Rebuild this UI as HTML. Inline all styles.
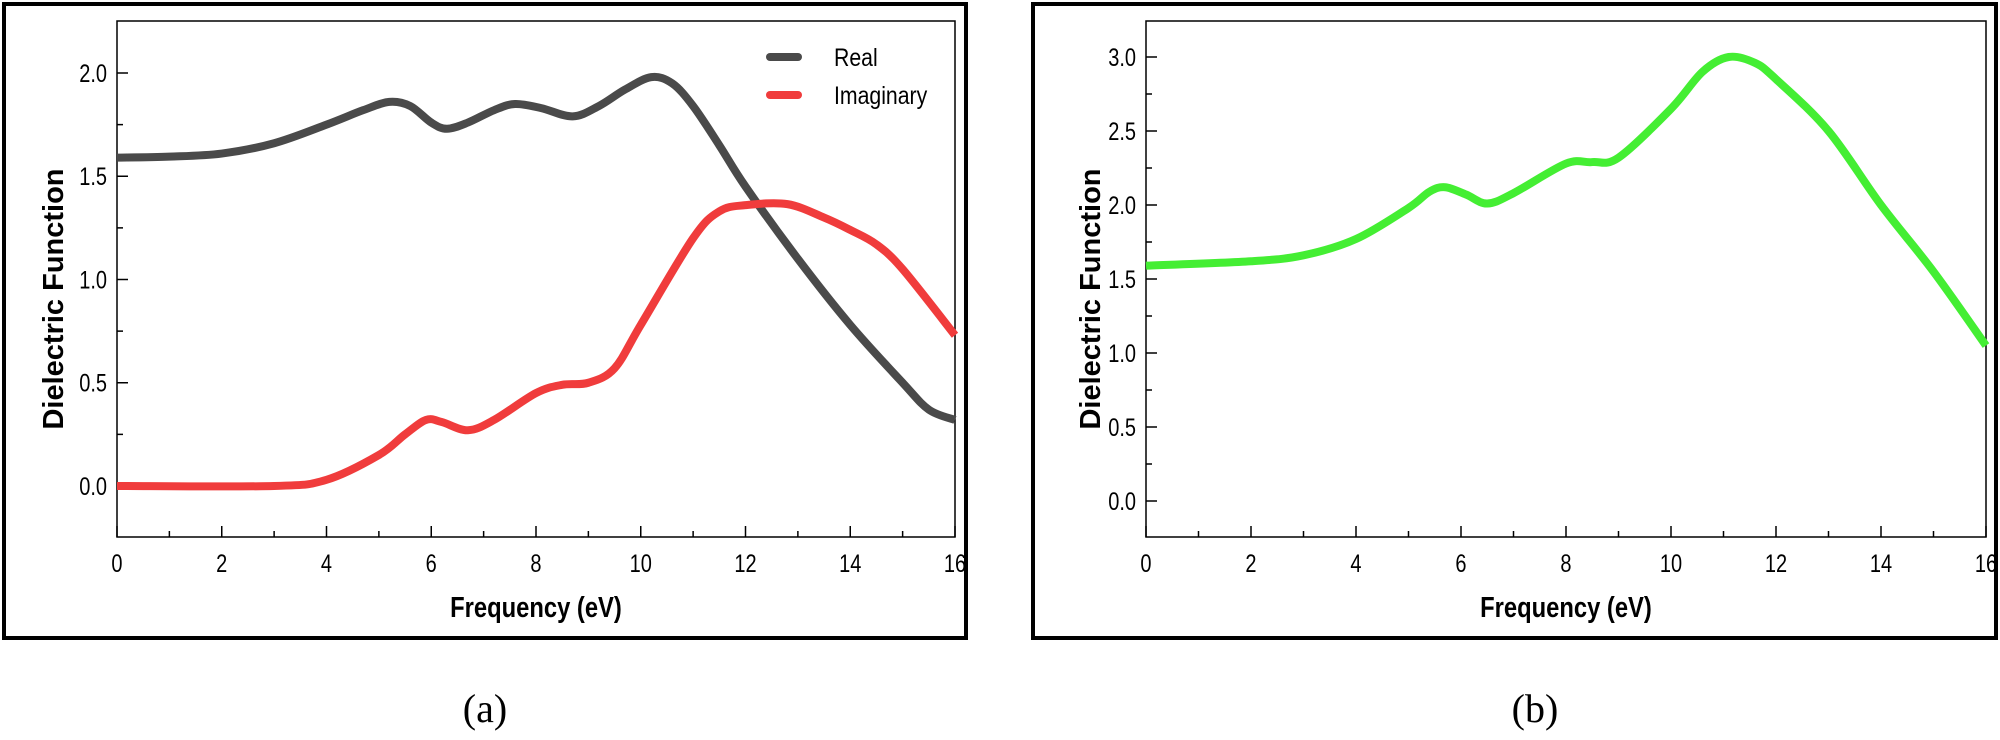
<!DOCTYPE html>
<html><head><meta charset="utf-8"><style>
body{margin:0;background:#fff}
svg text{font-family:"Liberation Sans",sans-serif}
</style></head><body>
<svg id="fig" width="2000" height="735" xmlns="http://www.w3.org/2000/svg">
<rect x="4" y="4" width="962" height="634" fill="none" stroke="#000" stroke-width="4"/>
<rect x="1033" y="4" width="963" height="634" fill="none" stroke="#000" stroke-width="4"/>
<text x="485" y="722" font-size="40" text-anchor="middle" style="font-family:'Liberation Serif',serif">(a)</text>
<text x="1535" y="722" font-size="40" text-anchor="middle" style="font-family:'Liberation Serif',serif">(b)</text>
<g id="pa"></g><g id="pb"></g>
</svg>
<script>
const xTicks=[0,2,4,6,8,10,12,14,16];
const realX=[0,1,2,3,4,4.7,5.2,5.6,6.0,6.3,6.7,7.2,7.6,8.1,8.7,9.2,9.7,10.2,10.6,11.0,11.5,12,13,14,15,15.5,16];
const realY=[1.59,1.595,1.61,1.66,1.75,1.82,1.86,1.84,1.76,1.73,1.76,1.82,1.85,1.83,1.79,1.84,1.92,1.98,1.95,1.84,1.65,1.45,1.1,0.78,0.5,0.37,0.32];
const imagX=[0,3,4,5,5.5,5.9,6.2,6.7,7.2,8,8.5,9,9.5,10,11,11.5,12,12.8,13.5,14,14.5,15,16];
const imagY=[0,0,0.03,0.15,0.25,0.32,0.31,0.27,0.32,0.45,0.49,0.5,0.57,0.78,1.2,1.33,1.36,1.365,1.3,1.24,1.17,1.05,0.73];
const aTicks=[0,0.5,1.0,1.5,2.0];
const greenX=[0,2,3,4,5,5.4,5.7,6.1,6.5,7,8,8.5,9,10,10.6,11.1,11.6,12,13,14,15,16];
const greenY=[1.59,1.62,1.66,1.77,1.98,2.09,2.12,2.07,2.01,2.08,2.28,2.29,2.32,2.65,2.9,3.0,2.96,2.85,2.5,2.0,1.55,1.05];
const bTicks=[0,0.5,1.0,1.5,2.0,2.5,3.0];
const NS="http://www.w3.org/2000/svg";
function mk(p,t,a){const e=document.createElementNS(NS,t);for(const k in a)e.setAttribute(k,a[k]);p.appendChild(e);return e;}
function path(pts){let d="M"+pts[0][0]+","+pts[0][1];for(let i=0;i<pts.length-1;i++){const p0=pts[Math.max(0,i-1)],p1=pts[i],p2=pts[i+1],p3=pts[Math.min(pts.length-1,i+2)];
d+=" C"+(p1[0]+(p2[0]-p0[0])/6)+","+(p1[1]+(p2[1]-p0[1])/6)+" "+(p2[0]-(p3[0]-p1[0])/6)+","+(p2[1]-(p3[1]-p1[1])/6)+" "+p2[0]+","+p2[1];}return d;}
function panel(g,L,R,T,B,y0,yMax,yMaxPx,yt,ytitleX,series){
 const sx=v=>L+(R-L)*v/16, sy=v=>y0-(y0-yMaxPx)*v/yMax;
 let r=mk(g,"rect",{x:L,y:T,width:R-L,height:B-T,fill:"none",stroke:"#000","stroke-width":1.5});
 
 
 for(let v=0;v<=16;v++){const l=mk(g,"line",{x1:sx(v),x2:sx(v),y1:B,y2:B-(v%2?6:11),stroke:"#000","stroke-width":1.5});
  
  }
 xTicks.forEach(v=>{const t=mk(g,"text",{x:sx(v),y:B+35,"font-size":25,"text-anchor":"middle",transform:`translate(${sx(v)},0) scale(0.8,1) translate(${-sx(v)},0)`});t.textContent=v;
  
  });
 for(let v=-0.25;v<=yt[yt.length-1]+0.26;v+=0.25){const y=sy(v);if(y<=T+2||y>=B-2)continue;const l=mk(g,"line",{x1:L,x2:L+(Math.abs(v*2-Math.round(v*2))<0.01?11:6),y1:y,y2:y,stroke:"#000","stroke-width":1.5});
  
  }
 yt.forEach(v=>{const t=mk(g,"text",{x:L-10,y:sy(v)+9,"font-size":25,"text-anchor":"end",transform:`translate(${L-10},0) scale(0.8,1) translate(${-(L-10)},0)`});t.textContent=v.toFixed(1);
  
  });
 const xt=mk(g,"text",{x:(L+R)/2,y:B+80,"font-size":29,"font-weight":"bold","text-anchor":"middle",transform:`translate(${(L+R)/2},0) scale(0.82,1) translate(${-(L+R)/2},0)`});xt.textContent="Frequency (eV)";
 
 
 const cy=(T+B)/2+20;
 const yt2=mk(g,"text",{x:ytitleX,y:cy,"font-size":29,"font-weight":"bold","text-anchor":"middle",transform:`rotate(-90 ${ytitleX} ${cy})`});yt2.textContent="Dielectric Function";
 
 
 series.forEach(se=>{const p=mk(g,"path",{d:path(se.x.map((v,i)=>[sx(v),sy(se.y[i])])),fill:"none",stroke:se.c,"stroke-width":8,"stroke-linejoin":"round"});
  
  });
}
panel(document.getElementById('pa'),117,955,21,537,486,2.0,73,aTicks,63,[{x:realX,y:realY,c:"#4a4a4a",n:"real-line"},{x:imagX,y:imagY,c:"#f03c3c",n:"imaginary-line"}]);
panel(document.getElementById('pb'),1146,1986,21,537,501,3.0,57,bTicks,1100,[{x:greenX,y:greenY,c:"#44ee33",n:"dielectric-line"}]);
const ga=document.getElementById('pa');
[["Real","#4a4a4a",57],["Imaginary","#f03c3c",95]].forEach(l=>{
 const ln=mk(ga,"line",{x1:770,x2:798,y1:l[2],y2:l[2],stroke:l[1],"stroke-width":8,"stroke-linecap":"round"});
 
 
 const t=mk(ga,"text",{x:834,y:l[2]+9,"font-size":25,transform:"translate(834,0) scale(0.85,1) translate(-834,0)"});t.textContent=l[0];
 
 
});
</script>
</body></html>
